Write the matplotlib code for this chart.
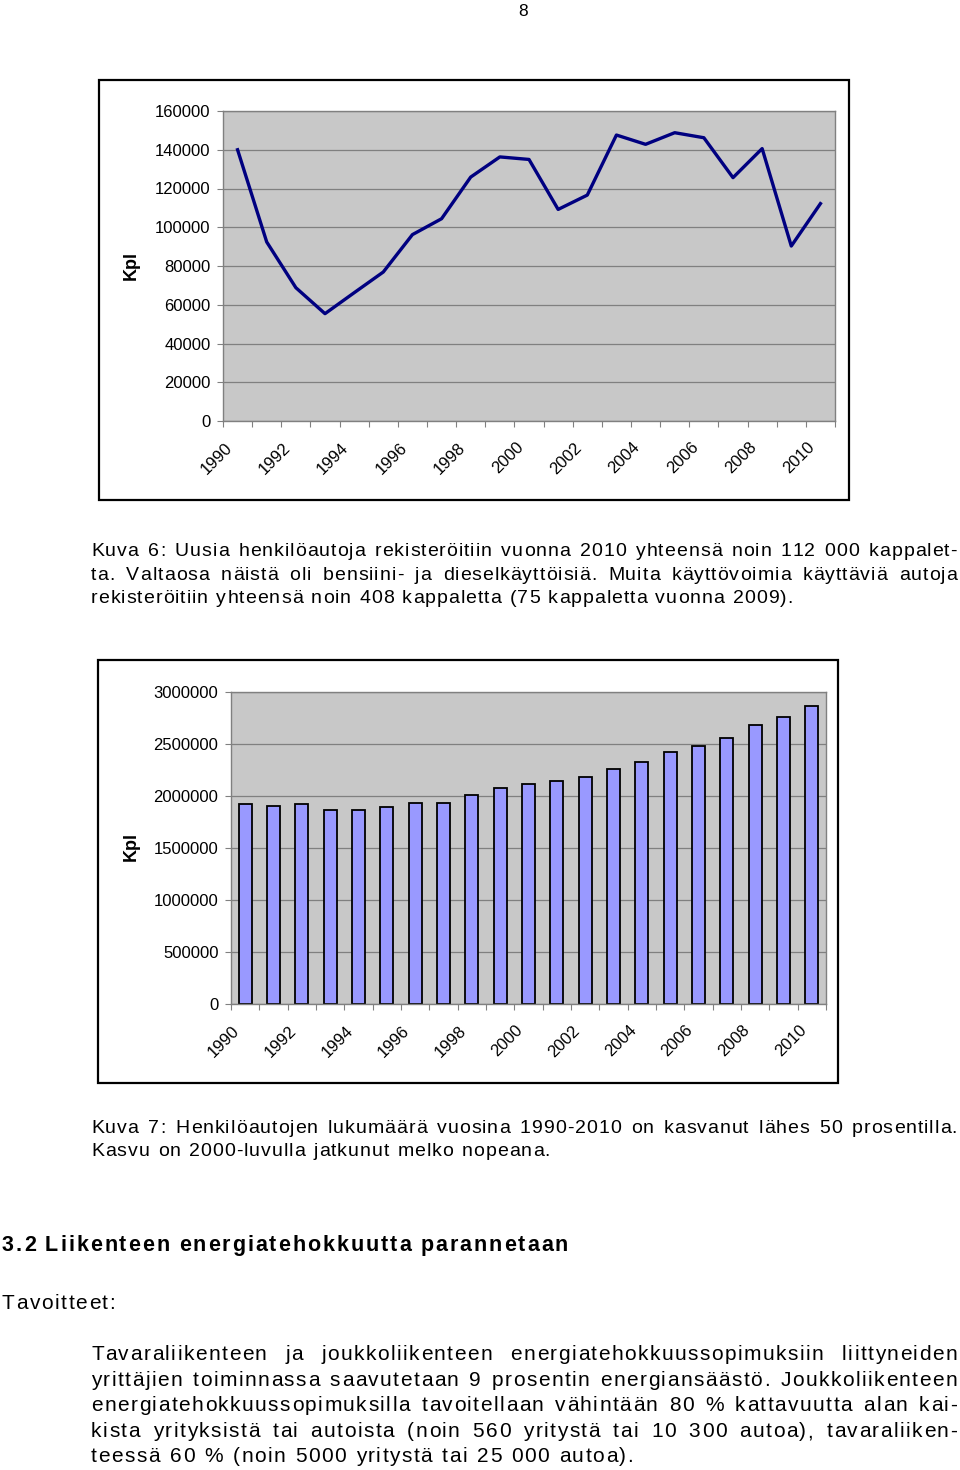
import matplotlib
matplotlib.use("Agg")
import matplotlib.pyplot as plt
from matplotlib.patches import Rectangle
from matplotlib.transforms import ScaledTranslation, blended_transform_factory
from matplotlib.font_manager import FontProperties, findfont, get_font

W, H = 960, 1470

# ── data ─────────────────────────────────────────────────────────────────────
years = list(range(1990, 2011))
year_labels = [str(y) for y in years[::2]]

# Kuva 6: new registrations per year (Kpl)
new_regs = [140000, 92400, 68800, 55400, 66200, 76900, 96200, 104400, 125900, 136300,
            135000, 109200, 116600, 147600, 142800, 148800, 146200, 125600, 140600,
            90300, 112200]
regs_ticks = list(range(0, 160001, 20000))

# Kuva 7: passenger cars in use (Kpl)
cars_total = [1919000, 1906000, 1919000, 1861000, 1861000, 1890000, 1935000, 1935000,
              2012000, 2073000, 2118000, 2147000, 2179000, 2256000, 2329000, 2419000,
              2483000, 2557000, 2679000, 2756000, 2862000]
cars_ticks = list(range(0, 3000001, 500000))

cap6 = [
    "Kuva 6: Uusia henkilöautoja rekisteröitiin vuonna 2010 yhteensä noin 112 000 kappalet-",
    "ta. Valtaosa näistä oli bensiini- ja dieselkäyttöisiä. Muita käyttövoimia käyttäviä autoja",
    "rekisteröitiin yhteensä noin 408 kappaletta (75 kappaletta vuonna 2009).",
]
cap7 = [
    "Kuva 7: Henkilöautojen lukumäärä vuosina 1990-2010 on kasvanut lähes 50 prosentilla.",
    "Kasvu on 2000-luvulla jatkunut melko nopeana.",
]
heading = "3.2 Liikenteen energiatehokkuutta parannetaan"
subhead = "Tavoitteet:"
para = [
    "Tavaraliikenteen ja joukkoliikenteen energiatehokkuussopimuksiin liittyneiden",
    "yrittäjien toiminnassa saavutetaan 9 prosentin energiansäästö. Joukkoliikenteen",
    "energiatehokkuussopimuksilla tavoitellaan vähintään 80 % kattavuutta alan kai-",
    "kista yrityksistä tai autoista (noin 560 yritystä tai 10 300 autoa), tavaraliiken-",
    "teessä 60 % (noin 5000 yritystä tai 25 000 autoa).",
]

plt.rcParams['font.family'] = ['Liberation Sans', 'DejaVu Sans']
fig = plt.figure(figsize=(W / 100, H / 100), dpi=100)

GRID = "#808080"
FACE = "#c8c8c8"


def fx(px):
    return px / W


def fy(py):
    return 1 - py / H


# ── helper: letter-spaced, word-justified text line (pixel coords) ──────────
def draw_line(text, x0, x1, yb, size, track, weight="normal"):
    fp = FontProperties(family="Liberation Sans", size=size, weight=weight)
    font = get_font(findfont(fp))
    font.set_size(size, 100)

    def adv(c):
        return font.load_char(ord(c)).linearHoriAdvance / 65536.0

    words = text.split(" ")
    if len(words) == 1:
        n = len(text)
        track = (x1 - x0 - sum(adv(c) for c in text)) / max(n - 1, 1)
        gap = 0
    else:
        wlen = [sum(adv(c) for c in w) + track * (len(w) - 1) for w in words]
        gap = (x1 - x0 - sum(wlen)) / (len(words) - 1)
    x = x0
    for w in words:
        for i, c in enumerate(w):
            fig.text(fx(x), fy(yb), c, fontproperties=fp, color="black",
                     ha="left", va="baseline")
            x += adv(c) + (track if i < len(w) - 1 else 0)
        x += gap


# ── page number ──────────────────────────────────────────────────────────────
fig.text(fx(523), fy(11), "8", fontsize=12.5, ha="center", va="center")


def frame(x0, y0, x1, y1):
    fig.add_artist(Rectangle((fx(x0), fy(y1)), fx(x1) - fx(x0), fy(y0) - fy(y1),
                             transform=fig.transFigure, fill=False,
                             edgecolor="black", linewidth=1.6))


def style_axes(ax, ymax, yticks):
    ax.set_facecolor(FACE)
    ax.set_xlim(-0.5, 20.5)
    ax.set_ylim(0, ymax)
    ax.set_yticks(yticks, labels=[str(v) for v in yticks])
    ax.yaxis.grid(True, color=GRID, linewidth=0.9)
    ax.set_axisbelow(True)
    for s in ax.spines.values():
        s.set_color(GRID)
        s.set_linewidth(1.0)
    ax.tick_params(axis="y", direction="out", length=4, color=GRID,
                   labelsize=12, pad=5)
    # ticks between categories, labels every other year
    ax.set_xticks([i - 0.5 for i in range(22)], labels=[])
    ax.tick_params(axis="x", which="major", direction="out", length=4, color=GRID)
    trans = blended_transform_factory(ax.transData, ax.transAxes) + \
        ScaledTranslation(-8 / 100, -24 / 100, fig.dpi_scale_trans)
    for i, lab in zip(range(0, 21, 2), year_labels):
        ax.text(i, 0, lab, transform=trans, rotation=45, rotation_mode="anchor",
                ha="right", va="center", fontsize=12)


# ── Kuva 6: line chart ───────────────────────────────────────────────────────
frame(99, 80, 849, 500)
ax1 = fig.add_axes([fx(223), fy(421), fx(835) - fx(223), fy(111) - fy(421)])
style_axes(ax1, 160000, regs_ticks)
ax1.plot(range(len(years)), new_regs, color="#000080", linewidth=2.4)
fig.text(fx(131), fy(266), "Kpl", rotation=90, fontsize=13, fontweight="bold",
         ha="center", va="center")

# ── Kuva 7: bar chart ────────────────────────────────────────────────────────
frame(98, 660, 838, 1083)
ax2 = fig.add_axes([fx(231), fy(1004), fx(826) - fx(231), fy(692) - fy(1004)])
style_axes(ax2, 3000000, cars_ticks)
ax2.bar(range(len(years)), cars_total, width=0.47, color="#9999ff",
        edgecolor="black", linewidth=1.3)
fig.text(fx(131), fy(847), "Kpl", rotation=90, fontsize=13, fontweight="bold",
         ha="center", va="center")

# ── body text ────────────────────────────────────────────────────────────────
cap6_ends = [957, 957, 793]
for line, yb, x1 in zip(cap6, [556, 580, 603], cap6_ends):
    draw_line(line, 91, x1, yb, 14, 1.0)

cap7_ends = [957, 550]
for line, yb, x1 in zip(cap7, [1133, 1156], cap7_ends):
    draw_line(line, 91, x1, yb, 14, 1.0)

draw_line(heading, 2, 568, 1251, 15.5, 2.0, weight="bold")
draw_line(subhead, 2, 115, 1309, 15, 2.0)

para_ends = [957, 957, 957, 957, 633]
for line, yb, x1 in zip(para, [1360, 1386, 1411, 1437, 1462], para_ends):
    draw_line(line, 91, x1, yb, 15, 1.5)

fig.savefig("out.png", dpi=100)
